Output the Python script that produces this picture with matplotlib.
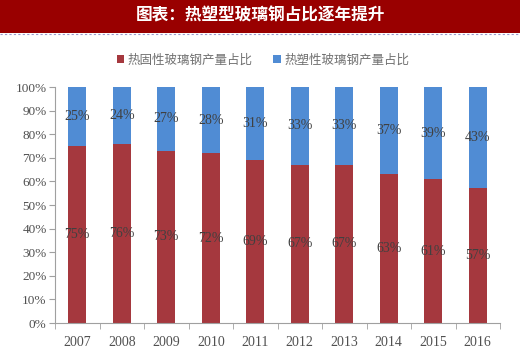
import matplotlib
matplotlib.use("Agg")
import matplotlib.pyplot as plt
from matplotlib.patches import Rectangle
import numpy as np

years = ["2007", "2008", "2009", "2010", "2011", "2012", "2013", "2014", "2015", "2016"]
thermoset = [75, 76, 73, 72, 69, 67, 67, 63, 61, 57]
thermoplastic = [25, 24, 27, 28, 31, 33, 33, 37, 39, 43]
series_names = ["热固性玻璃钢产量占比", "热塑性玻璃钢产量占比"]
title = "图表：热塑型玻璃钢占比逐年提升"

red = "#A5383E"
blue = "#508CD4"
cjk = ["Noto Sans CJK SC", "DejaVu Sans"]
serif = ["Liberation Serif", "DejaVu Serif"]

W, H = 520, 353
fig = plt.figure(figsize=(W / 100, H / 100), dpi=100)

# title bar
fig.patches.append(Rectangle((0, 1 - 33 / H), 1, 33 / H, transform=fig.transFigure,
                             facecolor="#990000", edgecolor="none", zorder=0))
fig.lines.append(plt.Line2D([0, 1], [1 - 34 / H, 1 - 34 / H], transform=fig.transFigure,
                            color="#9999cc", lw=0.8, ls=(0, (2, 2))))
fig.text(0.5, 1 - 16 / H, title, ha="center", va="center", color="white",
         fontsize=12, fontweight="bold", family=cjk)

ax = fig.add_axes([55 / W, 1 - 323 / H, (500 - 55) / W, (323 - 87) / H])
x = np.arange(len(years))
bw = 0.4
ax.bar(x, thermoset, bw, color=red, label=series_names[0])
ax.bar(x, thermoplastic, bw, bottom=thermoset, color=blue, label=series_names[1])

for i in range(len(years)):
    ax.text(x[i], thermoset[i] / 2, f"{thermoset[i]}%", ha="center", va="center",
            fontsize=10, color="#404040", family=serif)
    ax.text(x[i], thermoset[i] + thermoplastic[i] / 2, f"{thermoplastic[i]}%", ha="center",
            va="center", fontsize=10, color="#404040", family=serif)

ax.set_xlim(-0.5, len(years) - 0.5)
ax.set_ylim(0, 100)
ax.set_yticks(range(0, 101, 10))
ax.set_yticklabels([f"{v}%" for v in range(0, 101, 10)], family=serif, fontsize=9.5, color="#505050")
ax.set_xticks(x)
ax.set_xticklabels(years, family=serif, fontsize=10, color="#505050")
ax.set_xticks(np.arange(-0.5, len(years), 1), minor=True)
ax.tick_params(axis="x", which="major", length=0, pad=9)
ax.tick_params(axis="x", which="minor", length=4, color="#a0a0a0")
ax.tick_params(axis="y", length=4, color="#a0a0a0", pad=2)
for s in ["top", "right"]:
    ax.spines[s].set_visible(False)
for s in ["left", "bottom"]:
    ax.spines[s].set_color("#a0a0a0")
    ax.spines[s].set_linewidth(0.8)

leg = fig.legend(loc="center", bbox_to_anchor=(263 / W, 1 - 60 / H), ncol=2, frameon=False,
                 prop={"family": cjk, "size": 9}, handlelength=0.6, handleheight=0.6,
                 columnspacing=1.6, handletextpad=0.3)
for t in leg.get_texts():
    t.set_color("#707070")

fig.savefig("out.png", dpi=100)
